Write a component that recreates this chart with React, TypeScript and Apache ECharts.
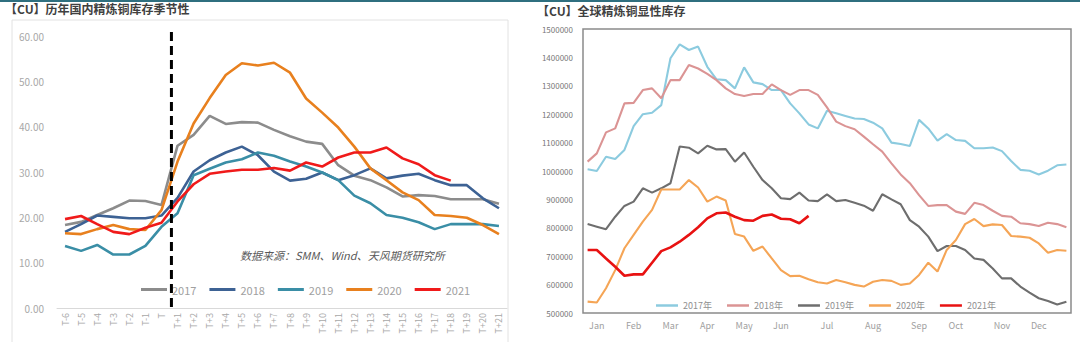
import React, { useEffect, useRef } from 'react';
import * as echarts from 'echarts';

// ---------- Left chart: seasonal domestic inventory ----------
const seasonCats = ['T-6', 'T-5', 'T-4', 'T-3', 'T-2', 'T-1', 'T', 'T+1', 'T+2', 'T+3', 'T+4', 'T+5', 'T+6', 'T+7', 'T+8', 'T+9', 'T+10', 'T+11', 'T+12', 'T+13', 'T+14', 'T+15', 'T+16', 'T+17', 'T+18', 'T+19', 'T+20', 'T+21'];
const s2017 = [18.3, 19.0, 20.5, 22.0, 23.7, 23.6, 22.7, 35.8, 38.2, 42.4, 40.6, 41.0, 40.9, 39.3, 37.9, 36.7, 36.2, 31.5, 29.2, 28.2, 26.6, 24.6, 24.9, 24.7, 24.0, 24.0, 24.0, 23.0];
const s2018 = [16.8, 18.5, 20.4, 20.1, 19.8, 19.8, 20.4, 24.3, 30.1, 32.6, 34.3, 35.6, 33.7, 30.1, 28.1, 28.5, 29.9, 28.2, 29.3, 30.8, 28.6, 29.2, 29.6, 28.2, 27.1, 27.1, 24.2, 22.0];
const s2019 = [13.7, 12.6, 13.9, 11.8, 11.8, 13.7, 17.9, 20.9, 29.3, 30.7, 32.1, 32.8, 34.3, 33.6, 32.3, 31.2, 29.9, 28.2, 24.8, 23.1, 20.5, 19.9, 18.9, 17.4, 18.5, 18.5, 18.5, 18.1];
const s2020 = [16.5, 16.3, 17.4, 18.3, 17.4, 17.2, 21.6, 32.3, 40.7, 46.3, 51.4, 54.0, 53.5, 54.1, 51.9, 46.2, 43.1, 39.8, 35.6, 30.8, 28.2, 25.5, 23.8, 20.5, 20.3, 19.9, 18.3, 16.3];
const s2021 = [19.6, 20.3, 18.5, 16.8, 16.3, 17.7, 18.8, 23.5, 27.3, 29.6, 30.1, 30.5, 30.5, 30.9, 30.3, 32.1, 31.2, 33.2, 34.3, 34.3, 35.4, 33.0, 31.7, 29.3, 28.1];
const seasonNames = ['2017', '2018', '2019', '2020', '2021'];
const seasonColors = ['#8c8c8c', '#3d6294', '#3a8ea6', '#e8801e', '#f01a1a'];

// ---------- Right chart: global visible inventory (weekly) ----------
const weekCats = Array.from({ length: 53 }, (_, i) => 'W' + (i + 1));
const monthNames = ['Jan', 'Feb', 'Mar', 'Apr', 'May', 'Jun', 'Jul', 'Aug', 'Sep', 'Oct', 'Nov', 'Dec'];
const monthWeekIdx = [1, 5, 9, 13, 17, 21, 26, 31, 36, 40, 45, 49];
const g2017 = [1006000, 1000000, 1050000, 1042000, 1074000, 1158000, 1200000, 1205000, 1232000, 1397000, 1446000, 1426000, 1438000, 1367000, 1323000, 1320000, 1291000, 1365000, 1312000, 1306000, 1285000, 1285000, 1238000, 1203000, 1164000, 1150000, 1212000, 1203000, 1194000, 1185000, 1183000, 1170000, 1150000, 1100000, 1095000, 1088000, 1180000, 1150000, 1107000, 1130000, 1109000, 1106000, 1080000, 1080000, 1083000, 1070000, 1035000, 1004000, 1001000, 988000, 1001000, 1020000, 1023000];
const g2018 = [1033000, 1062000, 1136000, 1150000, 1238000, 1240000, 1285000, 1291000, 1256000, 1320000, 1320000, 1373000, 1361000, 1342000, 1320000, 1291000, 1271000, 1264000, 1271000, 1271000, 1305000, 1285000, 1268000, 1285000, 1285000, 1268000, 1224000, 1174000, 1158000, 1147000, 1121000, 1094000, 1068000, 1027000, 988000, 957000, 915000, 877000, 880000, 880000, 857000, 849000, 888000, 880000, 860000, 842000, 839000, 816000, 813000, 806000, 818000, 813000, 802000];
const g2019 = [813000, 804000, 795000, 839000, 877000, 892000, 939000, 924000, 939000, 957000, 1086000, 1082000, 1062000, 1089000, 1076000, 1077000, 1033000, 1065000, 1015000, 968000, 939000, 904000, 901000, 924000, 896000, 894000, 918000, 894000, 898000, 888000, 878000, 860000, 918000, 900000, 883000, 827000, 804000, 769000, 718000, 736000, 736000, 722000, 692000, 687000, 657000, 622000, 622000, 593000, 572000, 552000, 542000, 530000, 540000];
const g2020 = [540000, 537000, 587000, 651000, 728000, 775000, 822000, 863000, 935000, 935000, 935000, 968000, 942000, 892000, 910000, 896000, 778000, 769000, 719000, 734000, 692000, 651000, 630000, 631000, 619000, 608000, 604000, 616000, 608000, 599000, 593000, 610000, 616000, 613000, 599000, 604000, 634000, 677000, 646000, 722000, 757000, 813000, 831000, 806000, 812000, 810000, 771000, 769000, 765000, 745000, 712000, 722000, 719000];
const g2021 = [722000, 722000, 692000, 663000, 631000, 636000, 636000, 677000, 718000, 731000, 751000, 775000, 802000, 833000, 851000, 854000, 839000, 827000, 825000, 842000, 847000, 832000, 830000, 816000, 842000];
const globalNames = ['2017年', '2018年', '2019年', '2020年', '2021年'];
const globalColors = ['#8ccbdf', '#db9494', '#6e6e6e', '#f5a556', '#e81212'];

const FONT = "'Noto Sans CJK SC', 'Noto Sans', sans-serif";

export default function App() {
  const ref = useRef<HTMLDivElement>(null);
  useEffect(() => {
    const chart = echarts.init(ref.current!, null, { renderer: 'svg' });
    const seasonData = [s2017, s2018, s2019, s2020, s2021];
    const globalData = [g2017, g2018, g2019, g2020, g2021];
    const option: any = {
      animation: false,
      backgroundColor: '#ffffff',
      textStyle: { fontFamily: FONT },
      grid: [
        { left: 57, right: 573, top: 36, bottom: 34 },
        { left: 583, right: 9, top: 29, bottom: 29, show: true, borderColor: '#8a8a8a', borderWidth: 1.5, backgroundColor: 'transparent' },
      ],
      legend: [
        {
          data: seasonNames,
          left: 136,
          top: 279,
          icon: 'rect',
          itemWidth: 26,
          itemHeight: 3,
          itemGap: 13,
          textStyle: { color: '#a0a0a0', fontSize: 11, fontFamily: FONT },
        },
        {
          data: globalNames,
          left: 651,
          top: 296,
          icon: 'rect',
          itemWidth: 22,
          itemHeight: 2.5,
          itemGap: 15,
          textStyle: { color: '#909090', fontSize: 9, fontFamily: FONT },
        },
      ],
      xAxis: [
        {
          type: 'category',
          gridIndex: 0,
          data: seasonCats,
          boundaryGap: true,
          axisLine: { lineStyle: { color: '#d9d9d9', width: 1 } },
          axisTick: { show: false },
          axisLabel: { rotate: 90, interval: 0, fontSize: 9, color: '#a8a8a8', margin: 5 },
        },
        {
          type: 'category',
          gridIndex: 1,
          data: weekCats,
          boundaryGap: true,
          axisLine: { show: false },
          axisTick: { show: false },
          axisLabel: {
            interval: 0,
            fontSize: 9,
            color: '#a0a0a0',
            margin: 8,
            formatter: (_v: string, idx: number) => {
              const k = monthWeekIdx.indexOf(idx);
              return k >= 0 ? monthNames[k] : '';
            },
          },
        },
      ],
      yAxis: [
        {
          type: 'value',
          gridIndex: 0,
          min: 0,
          max: 60,
          interval: 10,
          axisLine: { show: false },
          axisTick: { show: false },
          splitLine: { show: false },
          axisLabel: { fontSize: 10, color: '#a8a8a8', margin: 13, formatter: (v: number) => v.toFixed(2) },
        },
        {
          type: 'value',
          gridIndex: 1,
          min: 500000,
          max: 1500000,
          interval: 100000,
          axisLine: { show: false },
          axisTick: { show: false },
          splitLine: { show: false },
          axisLabel: { fontSize: 8, color: '#777777', margin: 10, formatter: (v: number) => String(v) },
        },
      ],
      series: [
        ...seasonNames.map((n, i) => ({
          name: n,
          type: 'line',
          xAxisIndex: 0,
          yAxisIndex: 0,
          data: seasonData[i],
          symbol: 'none',
          lineStyle: { width: 2.6, color: seasonColors[i] },
          itemStyle: { color: seasonColors[i] },
        })),
        ...globalNames.map((n, i) => ({
          name: n,
          type: 'line',
          xAxisIndex: 1,
          yAxisIndex: 1,
          data: globalData[i],
          symbol: 'none',
          lineStyle: { width: i === 4 ? 2.6 : 2.1, color: globalColors[i] },
          itemStyle: { color: globalColors[i] },
        })),
      ],
    };
    chart.setOption(option);

    const xT = chart.convertToPixel({ xAxisIndex: 0 }, 'T') as number;
    const xT1 = chart.convertToPixel({ xAxisIndex: 0 }, 'T+1') as number;
    const xd = xT + (xT1 - xT) * 0.62;

    chart.setOption({
      graphic: [
        { type: 'rect', shape: { x: 0, y: 0, width: 1080, height: 2 }, style: { fill: '#2f6f7f' }, silent: true },
        { type: 'rect', shape: { x: 12, y: 20, width: 496, height: 330 }, style: { fill: 'none', stroke: '#e2e2e2', lineWidth: 1 }, silent: true },
        {
          type: 'text', x: 5, y: 8,
          style: { text: '【CU】历年国内精炼铜库存季节性', fill: '#404040', fontSize: 12, fontWeight: 'bold', fontFamily: FONT, verticalAlign: 'middle' },
        },
        {
          type: 'text', x: 537, y: 10,
          style: { text: '【CU】全球精炼铜显性库存', fill: '#404040', fontSize: 12, fontWeight: 'bold', fontFamily: FONT, verticalAlign: 'middle' },
        },
        {
          type: 'text', x: 240, y: 255,
          style: { text: '数据来源：SMM、Wind、天风期货研究所', fill: '#5a5a5a', fontSize: 11, fontStyle: 'italic', fontFamily: FONT, verticalAlign: 'middle' },
        },
        {
          type: 'line', z: 100,
          shape: { x1: xd, y1: 32, x2: xd, y2: 312 },
          style: { stroke: '#000000', lineWidth: 3, lineDash: [9, 5] },
        },
      ],
    });
    return () => chart.dispose();
  }, []);
  return (
    <div style={{ position: 'fixed', left: 0, top: 0, width: 1080, height: 342, background: '#ffffff' }}>
      <div ref={ref} style={{ width: 1080, height: 342 }} />
    </div>
  );
}
